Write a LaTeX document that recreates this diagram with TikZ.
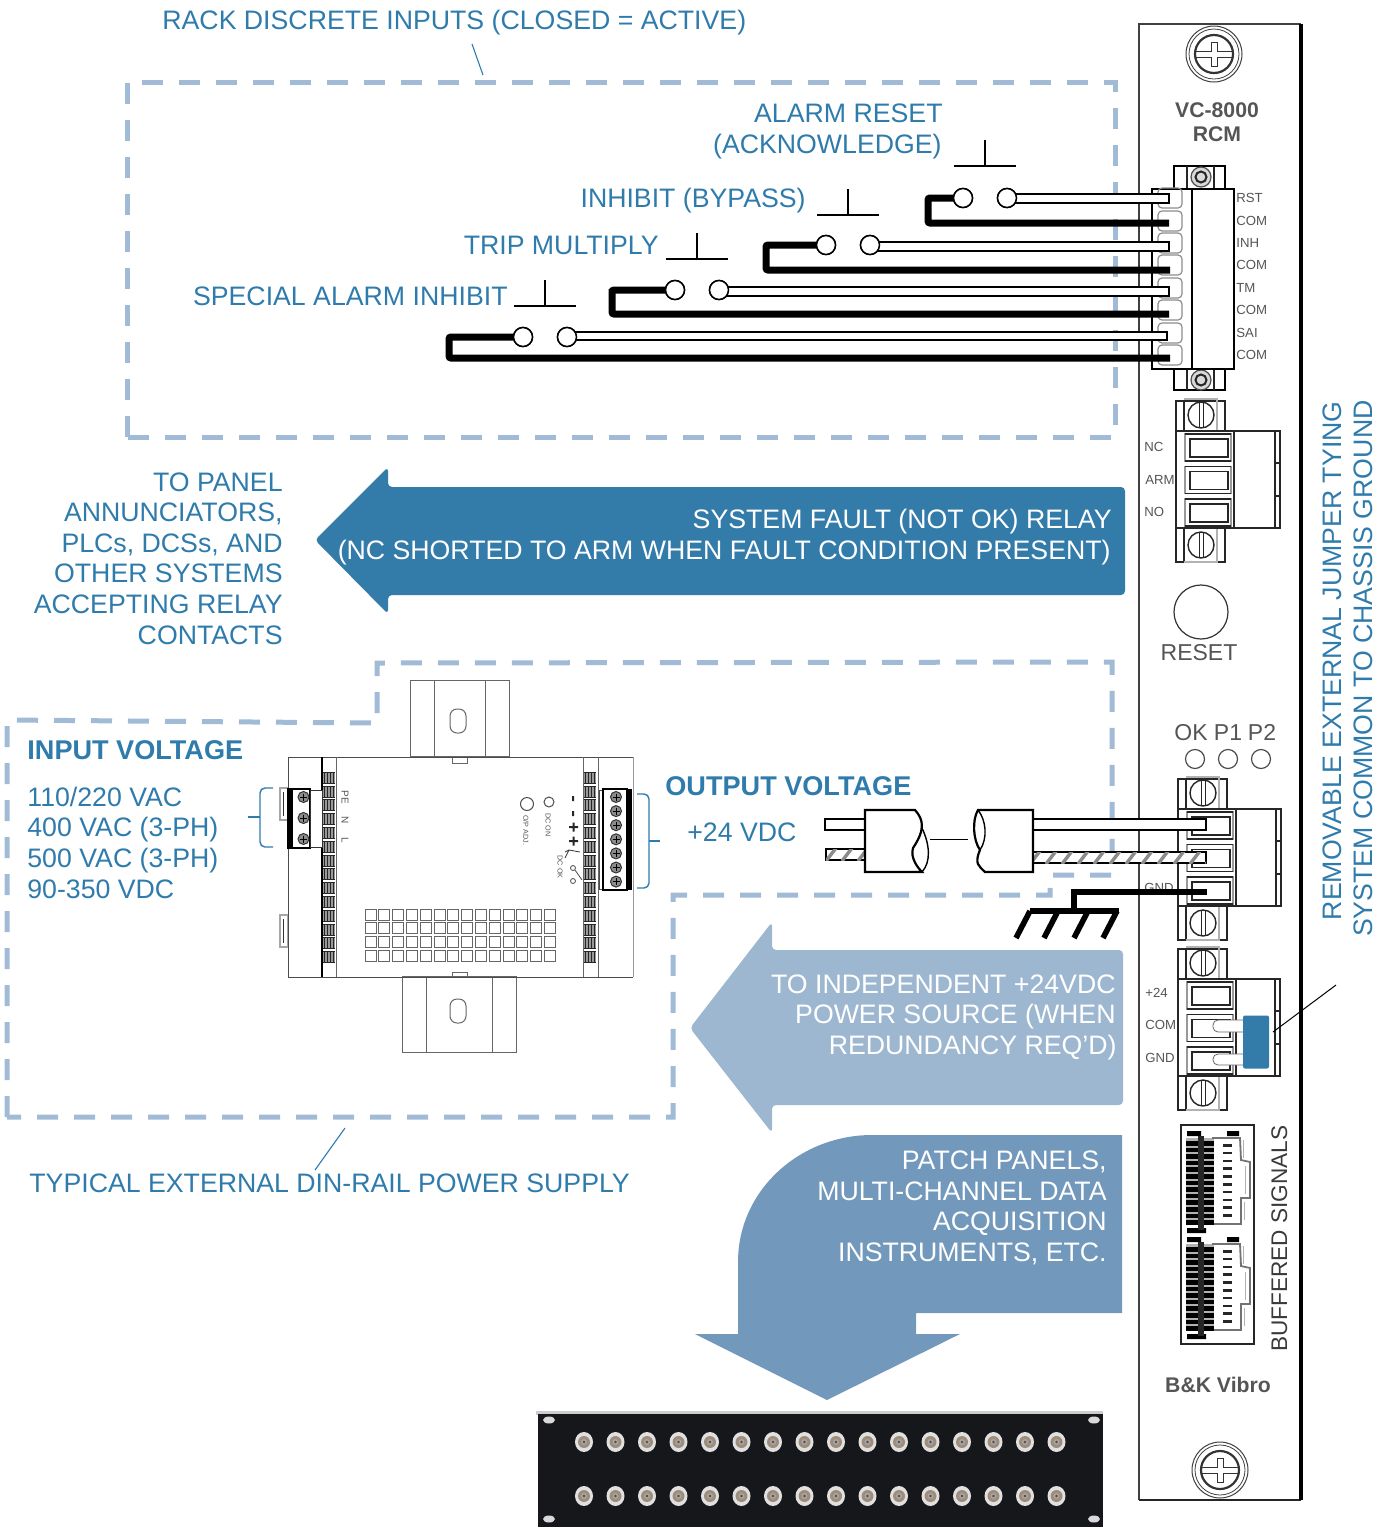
\documentclass[tikz,border=0pt]{standalone}
\usepackage{fontspec}
\setmainfont{Liberation Sans}
\usetikzlibrary{calc}
\definecolor{txtblue}{HTML}{2E7BAC}
\definecolor{arrdark}{HTML}{337BA9}
\definecolor{arrlight}{HTML}{9DB7D1}
\definecolor{arrmid}{HTML}{7299BC}
\definecolor{dashblue}{HTML}{A1BAD6}
\definecolor{lblgray}{HTML}{555555}
\definecolor{panelblack}{HTML}{15171A}
\tikzset{
  x=0.5pt,y=-0.5pt,
  bluetxt/.style={text=txtblue,font=\fontsize{13.35}{13.35}\selectfont,inner sep=0pt,text height=9.55pt,text depth=0pt},
  boldtxt/.style={text=txtblue,font=\fontsize{13.55}{13.55}\bfseries\selectfont,inner sep=0pt,text height=9.7pt,text depth=0pt},
  whitetxt/.style={text=white,font=\fontsize{13.35}{13.35}\selectfont,inner sep=0pt,text height=9.55pt,text depth=0pt},
  graytxt/.style={text=lblgray,font=\fontsize{6.6}{6.6}\selectfont,inner sep=0pt,text height=4.7pt,text depth=0pt},
  graybig/.style={text=lblgray,font=\fontsize{11.5}{11.5}\selectfont,inner sep=0pt,text height=8.2pt,text depth=0pt},
  graybold/.style={text=lblgray,font=\fontsize{10.6}{10.6}\bfseries\selectfont,inner sep=0pt,text height=7.6pt,text depth=0pt},
  tiny/.style={text=lblgray,font=\fontsize{3.6}{3.6}\selectfont,inner sep=0pt},
  dashbox/.style={draw=dashblue,line width=2.5pt,dash pattern=on 10.5pt off 8pt},
  thin1/.style={draw=black,line width=0.5pt},
  hair/.style={draw=black!85,line width=0.55pt},
  din/.style={draw=black!60,line width=0.5pt},
  heavy/.style={draw=black,line width=3.5pt,rounded corners=1pt},
  wirebox/.style={draw=black,fill=white,line width=1pt},
  contact/.style={circle,draw=black,fill=white,line width=0.75pt,minimum size=9.5pt,inner sep=0pt},
  bar/.style={draw=black,line width=0.55pt},
  bracketline/.style={draw=txtblue,line width=0.7pt,rounded corners=2.5pt},
  leader/.style={draw=txtblue,line width=0.55pt},
  pin/.style={draw=black,line width=1.1pt,fill=white},
  hatching/.style={draw=black!45,line width=1.7pt}
}
\newcommand{\plusscrew}[3]{%
  \draw[draw=black!75,line width=0.5pt] (#1,#2) circle (#3);
  \draw[draw=black!75,line width=0.4pt] (#1,#2) circle ({#3-3});
  \draw[draw=black!80,line width=1.1pt] (#1,#2) circle ({#3-9});
  \draw[draw=black!80,line width=0.45pt] ({#1-#3+9},{#2-3}) -- ({#1-3},{#2-3}) -- ({#1-3},{#2-12}) -- ({#1+3},{#2-12}) -- ({#1+3},{#2-3}) -- ({#1+#3-9},{#2-3})
    ({#1-#3+9},{#2+3}) -- ({#1-3},{#2+3}) -- ({#1-3},{#2+12}) -- ({#1+3},{#2+12}) -- ({#1+3},{#2+3}) -- ({#1+#3-9},{#2+3});}
\newcommand{\slotscrew}[3]{%
  \draw[draw=black!85,line width=0.7pt] (#1,#2) circle (#3);
  \draw[draw=black!85,line width=0.5pt] ({#1-2},{#2-#3}) -- ({#1-2},{#2+#3}) ({#1+2},{#2-#3}) -- ({#1+2},{#2+#3});}
\newcommand{\nutscrew}[3]{%
  \draw[draw=black!70,line width=0.6pt,fill=black!15] (#1,#2) circle (#3);
  \draw[draw=black!85,line width=1pt] (#1,#2) circle ({#3*0.55});}
% #1 = left x of body, #2 = top y of body, #3 right x of block
\newcommand{\termblock}[3]{%
  \draw[hair] (#1,{#2-30}) rectangle ({#1+49},#2);
  \draw[hair] (#1,{#2+97}) rectangle ({#1+49},{#2+131});
  \draw[hair] ({#1+8},{#2-30}) -- ({#1+8},#2) ({#1+8},{#2+97}) -- ({#1+8},{#2+131});
  \draw[draw=black!30,line width=0.6pt] ({#1+8},{#2-32}) -- ({#1+41},{#2-32}) -- ({#1+41},#2) ({#1+41},{#2+97}) -- ({#1+41},{#2+131}) -- ({#1+8},{#2+131});
  \pgfmathsetmacro\scx{#1+25}\pgfmathsetmacro\scya{#2-16}\pgfmathsetmacro\scyb{#2+114}%
  \slotscrew{\scx}{\scya}{13}
  \slotscrew{\scx}{\scyb}{13}
  \draw[hair] (#1,#2) rectangle ({#1+58},{#2+97});
  \draw[hair] ({#1+58},#2) rectangle (#3,{#2+97});
  \draw[hair] ({#3-5},#2) -- ({#3-5},{#2+97});
  \draw[hair] ({#3-5},{#2+32}) -- (#3,{#2+32}) ({#3-5},{#2+65}) -- (#3,{#2+65});
  \foreach \i in {0,1,2}{
    \draw[draw=black!40,line width=0.9pt] ({#1+9},{#2+3+32.5*\i}) rectangle ({#1+55},{#2+30+32.5*\i});
    \draw[draw=black!85,line width=0.75pt,fill=white] ({#1+14},{#2+8+32.5*\i}) rectangle ({#1+52},{#2+26+32.5*\i});
    \draw[draw=black!85,line width=0.8pt] ({#1+9},{#2+3+32.5*\i}) -- ({#1+55},{#2+3+32.5*\i}) ({#1+9},{#2+30+32.5*\i}) -- ({#1+55},{#2+30+32.5*\i});
  }}
\newcommand{\combcol}[1]{%
  \foreach \i in {0,...,13}{
    \fill[black!40] (#1,{772+13.8*\i}) rectangle ({#1+12},{783+13.8*\i});
    \foreach \k in {1,4,7,10}{\draw[draw=black!85,line width=0.3pt] ({#1+\k+0.5},{772+13.8*\i}) -- ({#1+\k+0.5},{783+13.8*\i});}
    \draw[draw=black!85,line width=0.3pt] (#1,{772+13.8*\i}) -- ({#1+12},{772+13.8*\i}) (#1,{783+13.8*\i}) -- ({#1+12},{783+13.8*\i});
  }}
\newcommand{\buffconn}[1]{% #1 = top y
  \fill[black!30] (1186,{#1+8}) rectangle (1214,{#1+94});
  \draw[draw=black!55,line width=0.9pt] (1212,{#1+8}) -- (1240,{#1+8}) -- (1241,{#1+30}) -- (1250,{#1+32}) -- (1250,{#1+68}) -- (1241,{#1+68}) -- (1241,{#1+94}) -- (1212,{#1+94});
  \draw[draw=black!30,line width=0.5pt] (1243,{#1+10}) -- (1243,{#1+28}) (1245,{#1+36}) -- (1245,{#1+64}) (1244,{#1+72}) -- (1244,{#1+90});
  \fill[black] (1187,{#1+1}) rectangle (1201,{#1+6}) (1227,{#1+1}) rectangle (1239,{#1+6}) (1187,{#1+98}) rectangle (1206,{#1+103});
  \foreach \i in {0,...,12}{
    \fill[black] (1186,{#1+11+6.6*\i}) rectangle (1214,{#1+15.5+6.6*\i});
  }
  \foreach \i in {0,...,9}{
    \fill[black!85] (1223,{#1+14+7.8*\i}) rectangle (1232,{#1+16.5+7.8*\i});
  }
  \fill[black!85] (1198,{#1+6}) rectangle (1204,{#1+100});}
\begin{document}
\begin{tikzpicture}
\useasboundingbox (0,0) rectangle (1390,1527);
% dashed boxes
\draw[dashbox] (127,437) -- (127,82) -- (1115,82) -- (1115,437) -- cycle;
\draw[dashbox] (7,1117) -- (7,720) -- (377,723) -- (377,663) -- (1112,662) -- (1112,875) -- (1050,875) -- (1050,895) -- (673,895) -- (673,1117) -- cycle;

% arrows
\fill[arrdark,rounded corners=2pt] (315,540) -- (388,467) -- (388,487) -- (1125,487) -- (1125,595) -- (388,595) -- (388,614) -- cycle;
\fill[arrlight,rounded corners=2pt] (690,1028) -- (772,922) -- (772,950) -- (1123,950) -- (1123,1105) -- (772,1105) -- (772,1133) -- cycle;
\fill[arrmid] (1122,1135) -- (1122,1313) -- (916,1313) -- (916,1334) -- (960,1334) -- (827,1400) -- (695,1334) -- (738,1334) -- (738,1262) .. controls (738,1190) and (800,1135) .. (872,1135) -- cycle;

% top texts
\node[bluetxt,anchor=west] (ttop) at (162,20) {RACK DISCRETE INPUTS (CLOSED = ACTIVE)};
\coordinate (topfree) at (483,75);
\coordinate (topstart) at (472,44);
\draw[leader] (topstart) -- (topfree);
\node[bluetxt,anchor=east] (tar1) at (943,113) {ALARM RESET};
\node[bluetxt,anchor=east] (tar2) at (942,144) {(ACKNOWLEDGE)};
\node[bluetxt,anchor=east] (tinh) at (806,198) {INHIBIT (BYPASS)};
\node[bluetxt,anchor=east] (ttm) at (659,245) {TRIP MULTIPLY};
\node[bluetxt,anchor=east] (tsai) at (508,296) {SPECIAL ALARM INHIBIT};

% left relay text
\node[bluetxt,anchor=east] (rela) at (283,482) {TO PANEL};
\node[bluetxt,anchor=east] (relb) at (283,512) {ANNUNCIATORS,};
\node[bluetxt,anchor=east] (relc) at (283,543) {PLCs, DCSs, AND};
\node[bluetxt,anchor=east] (reld) at (283,573) {OTHER SYSTEMS};
\node[bluetxt,anchor=east] (rele) at (283,604) {ACCEPTING RELAY};
\node[bluetxt,anchor=east] (relf) at (283,635) {CONTACTS};
\node[whitetxt,anchor=east] (sf1) at (1112,519) {SYSTEM FAULT (NOT OK) RELAY};
\node[whitetxt,anchor=east] (sf2) at (1111,550) {(NC SHORTED TO ARM WHEN FAULT CONDITION PRESENT)};
\node[whitetxt,anchor=east] (ip1) at (1116,984) {TO INDEPENDENT +24VDC};
\node[whitetxt,anchor=east] (ip2) at (1116,1014) {POWER SOURCE (WHEN};
\node[whitetxt,anchor=east] (ip3) at (1117,1045) {REDUNDANCY REQ’D)};
\node[whitetxt,anchor=east] (pp1) at (1107,1160) {PATCH PANELS,};
\node[whitetxt,anchor=east] (pp2) at (1107,1191) {MULTI-CHANNEL DATA};
\node[whitetxt,anchor=east] (pp3) at (1107,1221) {ACQUISITION};
\node[whitetxt,anchor=east] (pp4) at (1107,1252) {INSTRUMENTS, ETC.};

% input / output text
\node[boldtxt,anchor=west] (inv) at (27,750) {INPUT VOLTAGE};
\node[bluetxt,anchor=west] (in1) at (27,797) {110/220 VAC};
\node[bluetxt,anchor=west] (in2) at (27,827) {400 VAC (3-PH)};
\node[bluetxt,anchor=west] (in3) at (27,858) {500 VAC (3-PH)};
\node[bluetxt,anchor=west] (in4) at (27,889) {90-350 VDC};
\node[boldtxt,anchor=west] (outv) at (665,786) {OUTPUT VOLTAGE};
\node[bluetxt,anchor=west] (out1) at (687,832) {+24 VDC};
\node[bluetxt,anchor=west] (dintxt) at (29,1183) {TYPICAL EXTERNAL DIN-RAIL POWER SUPPLY};
\coordinate (dinA) at (315,1170);
\coordinate (dinB) at (345,1128);
\draw[leader] (dinA) -- (dinB);

% rotated text
\node[bluetxt,anchor=east,rotate=90] (rot1) at (1332,401) {REMOVABLE EXTERNAL JUMPER TYING};
\node[bluetxt,anchor=east,rotate=90] (rot2) at (1363,400) {SYSTEM COMMON TO CHASSIS GROUND};

% rack module
\draw[draw=black!75,line width=1pt] (1139,1500) -- (1139,24) -- (1301,24);
\draw[draw=black!85,line width=1pt] (1139,1500) -- (1301,1500);
\draw[draw=black,line width=1.7pt] (1301,24) -- (1301,1500);
\plusscrew{1214}{54}{28}
\plusscrew{1220}{1470}{28}
\node[graybold] (vc) at (1217,110) {VC-8000};
\node[graybold] (rcm) at (1217,134) {RCM};
\node[graybold] (bk) at (1218,1385) {B\&K Vibro};

% 8 pin connector
\draw[thin1,line width=0.7pt] (1174,189) -- (1174,166) -- (1225,166) -- (1225,189);
\draw[thin1,line width=0.7pt] (1174,369) -- (1174,390) -- (1225,390) -- (1225,369);
\draw[hair] (1187,166) -- (1187,189) (1214,166) -- (1214,189) (1187,369) -- (1187,390) (1214,369) -- (1214,390);
\nutscrew{1201}{177}{10}
\nutscrew{1201}{380}{10}
\draw[thin1,line width=0.7pt,fill=white] (1152,189) rectangle (1234,369);
\draw[thin1,line width=0.6pt] (1192,189) -- (1192,369);
\foreach \yy in {198,221,243,265,288,310,333,355}{
  \draw[draw=black!45,line width=0.6pt,rounded corners=2pt] (1158,\yy-10) rectangle (1182,\yy+10);}
\foreach \n/\yy/\t in {a/198/RST,b/221/COM,c/243/INH,d/265/COM,e/288/TM,f/310/COM,g/333/SAI,h/355/COM}{
  \node[graytxt,anchor=west] (pin\n) at (1236,\yy) {\t};}

% terminal coordinates and wires
\coordinate (tRST) at (1169,198);
\coordinate (tC1) at (1169,223);
\coordinate (tINH) at (1169,246);
\coordinate (tC2) at (1170,270);
\coordinate (tTM) at (1169,291);
\coordinate (tC3) at (1169,314);
\coordinate (tSAI) at (1167,336);
\coordinate (tC4) at (1170,358);
\coordinate (crnA) at (928,198);
\coordinate (crnB) at (766,245);
\coordinate (crnC) at (612,291);
\coordinate (crnD) at (449,337);

\node[contact] (a1) at (963,198) {};
\node[contact] (a2) at (1007,198) {};
\node[contact] (b1) at (826,245) {};
\node[contact] (b2) at (870,245) {};
\node[contact] (c1) at (675,290) {};
\node[contact] (c2) at (719,290) {};
\node[contact] (d1) at (523,337) {};
\node[contact] (d2) at (567,337) {};

\draw[heavy] (a1) -- (crnA) |- (tC1);
\draw[heavy] (b1) -- (crnB) |- (tC2);
\draw[heavy] (c1) -| (crnC) |- (tC3);
\draw[heavy] (d1) -- (crnD) |- (tC4);
\draw[wirebox] ($(a2)+(0,-4.5)$) rectangle ($(tRST)+(0,4.5)$);
\draw[wirebox] ($(b2)+(0,-3.5)$) rectangle ($(tINH)+(0,5)$);
\draw[wirebox] ($(c2)+(0,-3.5)$) rectangle ($(tTM)+(0,4.5)$);
\draw[wirebox] ($(d2)+(0,-5)$) rectangle ($(tSAI)+(0,4)$);
\foreach \n in {a1,a2,b1,b2,c1,c2,d1,d2}{\node[contact] at (\n) {};}

% switch bars
\foreach \xx/\yy in {985/166,848/215,697/259,545/306}{
  \draw[bar] (\xx-31,\yy) -- (\xx+31,\yy);
  \draw[bar] (\xx,\yy) -- (\xx,\yy-26);}

% relay connector
\termblock{1176}{431}{1280}
\node[graytxt,anchor=west] (nc) at (1144,447) {NC};
\node[graytxt,anchor=west] (arm) at (1145,480) {ARM};
\node[graytxt,anchor=west] (no) at (1144,512) {NO};
\draw[draw=black!80,line width=0.6pt] (1201,612) circle (27);
\node[graybig] (reset) at (1199,652) {RESET};
\node[graybig] (ok) at (1191,732) {OK};
\node[graybig] (p1) at (1228,732) {P1};
\node[graybig] (p2) at (1262,732) {P2};
\foreach \xx in {1195,1228,1261}{\draw[draw=black!70,line width=0.6pt] (\xx,759) circle (9.5);}

% power connector
\termblock{1178}{809}{1281}
\node[graytxt,anchor=west] (gndh) at (1144,888) {GND};
\termblock{1178}{979}{1280}
\node[graytxt,anchor=west] (p24) at (1145,993) {+24};
\node[graytxt,anchor=west] (pcom) at (1145,1025) {COM};
\node[graytxt,anchor=west] (pgnd) at (1145,1058) {GND};

% jumper
\draw[draw=black!60,line width=0.4pt,fill=white,rounded corners=2.5pt] (1213,1020) rectangle (1248,1032);
\draw[draw=black!60,line width=0.4pt,fill=white,rounded corners=2.5pt] (1213,1054) rectangle (1248,1065);
\node[fill=arrdark,draw=none,minimum width=13pt,minimum height=26.5pt,rounded corners=1pt,inner sep=0pt] (jump) at (1256,1042) {};
\coordinate (jumpfree) at (1336,985);
\coordinate (jumpend) at (1273,1032);
\draw[thin1] (jumpend) -- (jumpfree);

% cable
\coordinate (w1s) at (1033,819);
\coordinate (w1e) at (1206,830);
\coordinate (w2s) at (1033,852);
\coordinate (w2e) at (1206,863);
\draw[pin] (w1s) rectangle (w1e);
\draw[pin] (w2s) rectangle (w2e);
\begin{scope}
\clip (w2s) rectangle (w2e);
\foreach \xx in {1030,1046,...,1210}{\draw[hatching] (\xx,864) -- (\xx+10,851);}
\end{scope}
\draw[draw=black,line width=1.1pt,fill=white] (985,872) .. controls (979,866) and (974,864) .. (980,850) .. controls (973,840) and (972,820) .. (978,810) -- (1033,810) -- (1033,872) -- cycle;
\draw[draw=black,line width=0.7pt] (978,810) .. controls (986,820) and (988,838) .. (980,850);
\draw[draw=black,line width=0.9pt,fill=white] (825,819) rectangle (865,830);
\draw[draw=black,line width=0.9pt,fill=white] (826,849) rectangle (865,860);
\begin{scope}
\clip (826,849) rectangle (865,860);
\foreach \xx in {826,842,858}{\draw[hatching] (\xx,861) -- (\xx+10,848);}
\end{scope}
\draw[draw=black,line width=1.1pt,fill=white] (915,810) .. controls (924,820) and (925,830) .. (913,848) .. controls (910,858) and (918,868) .. (922,872) -- (865,872) -- (865,810) -- cycle;
\draw[draw=black,line width=0.7pt] (922,828) .. controls (930,845) and (931,862) .. (922,872);
\coordinate (gapA) at (930,839);
\coordinate (gapB) at (968,839);
\draw[draw=black,line width=0.5pt] (gapA) -- (gapB);

% ground
\coordinate (gTerm) at (1207,892);
\coordinate (gBar) at (1074,911);
\draw[draw=black,line width=2.8pt] (gTerm) -| (gBar);
\draw[draw=black,line width=2.8pt] (1030,911) -- (1119,911);
\foreach \xx in {1030,1058,1088,1117}{\draw[draw=black,line width=2.8pt] (\xx,911) -- (\xx-14,938);}

% buffered signals
\draw[draw=black!85,line width=0.7pt] (1181,1125) rectangle (1254,1344);
\buffconn{1130}
\buffconn{1236}
\node[text=lblgray!70!black,font=\fontsize{11.3}{11.3}\selectfont,inner sep=0pt,text height=8.1pt,text depth=0pt,anchor=west,rotate=90] (buf) at (1279,1352) {BUFFERED SIGNALS};

% DIN rail supply
\draw[din] (410,680) rectangle (509,756);
\draw[din] (434,680) -- (434,756) (485,680) -- (485,756);
\draw[din,rounded corners=3.5pt] (450,709) rectangle (466,733);
\draw[din] (452,757) rectangle (467,763);
\draw[din] (402,976) rectangle (516,1052);
\draw[din] (426,976) -- (426,1052) (492,976) -- (492,1052);
\draw[din,rounded corners=3.5pt] (450,999) rectangle (466,1023);
\draw[din] (452,972) rectangle (467,976);
\draw[draw=black!35,line width=0.6pt] (280,788) rectangle (288,820) (280,915) rectangle (288,947);
\draw[draw=black!80,line width=0.5pt] (283,792) -- (283,816) (283,919) -- (283,943);
\draw[draw=black!70,line width=0.5pt] (288,977) -- (288,757) -- (633,757);
\draw[draw=black!70,line width=0.5pt] (288,977) -- (633,977);
\draw[draw=black!40,line width=0.5pt] (633,757) -- (633,977);
\draw[draw=black,line width=0.6pt] (322,757) -- (322,977);
\draw[din] (336,757) -- (336,977) (583,757) -- (583,977) (598,757) -- (598,977);
\combcol{323}
\combcol{584}
% left terminal
\fill[black] (288,789) rectangle (293,848);
\draw[draw=black,line width=0.6pt] (288,789) rectangle (310,848);
\draw[draw=black!80,line width=0.5pt,fill=white] (310,790) rectangle (322,847);
\foreach \yy in {797,818,839}{\draw[draw=black!80,line width=0.5pt,fill=black!45] (303.5,\yy) circle (5.5);\draw[draw=black,line width=0.3pt] (300,\yy) -- (307,\yy) (303.5,\yy-3.5) -- (303.5,\yy+3.5);}
% right terminal
\draw[draw=black!70,line width=0.5pt,fill=white] (599,790) rectangle (610,889);
\draw[draw=black,line width=0.7pt,fill=white] (603,789) rectangle (627,890);
\fill[black] (627,789) rectangle (632,890);
\foreach \i in {0,...,6}{\draw[draw=black!80,line width=0.5pt,fill=black!45] (616,{797+14.1*\i}) circle (5.5);\draw[draw=black,line width=0.3pt] (612.5,{797+14.1*\i}) -- (619.5,{797+14.1*\i}) (616,{793.5+14.1*\i}) -- (616,{800.5+14.1*\i});}
% panel small print
\node[text=lblgray,font=\fontsize{5}{5}\selectfont,inner sep=0pt,rotate=-90] (pe) at (345,797) {PE};
\node[text=lblgray,font=\fontsize{5}{5}\selectfont,inner sep=0pt,rotate=-90] (nn) at (345,820) {N};
\node[text=lblgray,font=\fontsize{5}{5}\selectfont,inner sep=0pt,rotate=-90] (ll) at (345,840) {L};
\draw[draw=black!70,line width=0.5pt] (527,804) circle (6.5);
\draw[draw=black!70,line width=0.5pt] (549,802) circle (5);
\node[tiny,rotate=-90] (opadj) at (526,830) {O/P ADJ.};
\node[tiny,rotate=-90] (dcon) at (548,825) {DC ON};
\node[tiny,rotate=-90] (dcok) at (560,867) {DC OK};
\fill[black!85] (572,796) rectangle (574,801) (572,811) rectangle (574,816);
\fill[black!85] (569,826) rectangle (578,828) (572.5,822.5) rectangle (574.5,831.5) (569,840) rectangle (578,842) (572.5,836.5) rectangle (574.5,845.5);
\draw[draw=black!80,line width=0.4pt] (565,852) -- (569,850) -- (580,852) (569,850) -- (565,858);
\draw[draw=black!70,line width=0.4pt] (573,868) circle (2.5) (573,881) circle (2.5);
\draw[draw=black!70,line width=0.4pt] (575,870) -- (582,880);
% vent grid
\foreach \cc in {0,...,13}{\foreach \rr in {0,...,3}{
  \draw[draw=black!60,line width=0.5pt] ({365+13.8*\cc},{909+13.8*\rr}) rectangle ({376+13.8*\cc},{920+13.8*\rr});}}
% brackets
\coordinate (brLtop) at (273,788);
\coordinate (brLbot) at (273,847);
\coordinate (brLtick) at (248,817);
\coordinate (brLmid) at (260,817);
\draw[bracketline] (brLtop) -| (brLmid) |- (brLbot);
\draw[bracketline] (brLtick) -- (brLmid);
\coordinate (brRtop) at (637,794);
\coordinate (brRbot) at (637,888);
\coordinate (brRtick) at (660,841);
\coordinate (brRmid) at (649,841);
\draw[bracketline] (brRtop) -| (brRmid) |- (brRbot);
\draw[bracketline] (brRtick) -- (brRmid);

% patch panel
\fill[black!20] (536,1411) rectangle (1103,1415);
\fill[panelblack] (538,1414) rectangle (1103,1527);
\fill[white!85!black] (549,1420) ellipse (6 and 3.5) (549,1519) ellipse (6 and 3.5) (1094,1420) ellipse (6 and 3.5) (1094,1519) ellipse (6 and 3.5);
\foreach \rr in {1442,1496}{\foreach \cc in {0,...,15}{
  \fill[black!12] ({584+31.5*\cc},\rr) ellipse (9 and 10);
  \fill[black!50!brown!60!white] ({584+31.5*\cc},\rr) circle (6);
  \fill[black!35] ({584+31.5*\cc},\rr) circle (3);
  \fill[black!70] ({584+31.5*\cc},\rr) circle (1.3);
}}
\end{tikzpicture}
\end{document}
